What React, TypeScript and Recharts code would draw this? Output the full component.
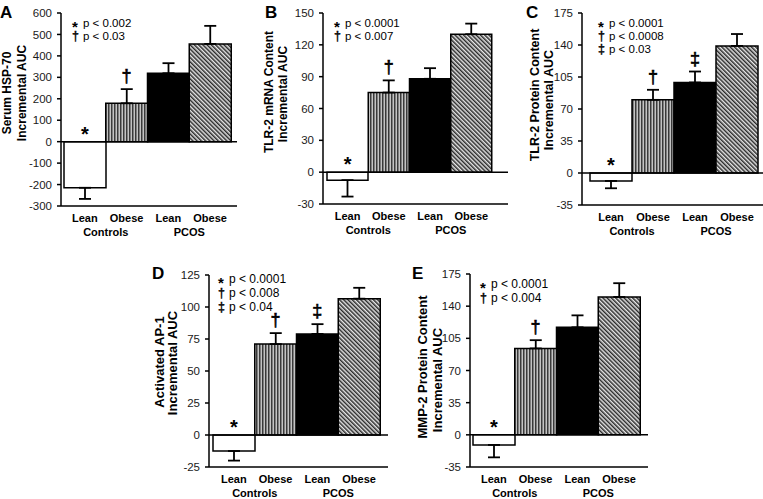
import React from 'react'
import {
  ComposedChart,
  Bar,
  Cell,
  ErrorBar,
  Line,
  LabelList,
  XAxis,
  YAxis,
  ReferenceLine,
} from 'recharts'

const FONT = '"Liberation Sans", Arial, Helvetica, sans-serif'

// shared categories
const categories = ['Lean', 'Obese', 'Lean', 'Obese']
const groups = ['Controls', '', 'PCOS', '']

// A: serum HSP-70
const hspValues = [-215, 179, 319, 456]
const hspErrors = [52, 66, 47, 84]
const hspMarks = ['*', '†', '', '']
const hspTicks = [-300, -200, -100, 0, 100, 200, 300, 400, 500, 600]
const hspLegend = [['*', 'p < 0.002'], ['†', 'p < 0.03']]

// B: TLR-2 mRNA
const mrnaValues = [-7.5, 75, 88, 130]
const mrnaErrors = [15.5, 11.5, 10, 10]
const mrnaMarks = ['*', '†', '', '']
const mrnaTicks = [-30, 0, 30, 60, 90, 120, 150]
const mrnaLegend = [['*', 'p < 0.0001'], ['†', 'p < 0.007']]

// C: TLR-2 protein
const tlrValues = [-8.7, 80, 99, 139]
const tlrErrors = [8, 11, 12, 13]
const tlrMarks = ['*', '†', '‡', '']
const tlrTicks = [-35, 0, 35, 70, 105, 140, 175]
const tlrLegend = [['*', 'p < 0.0001'], ['†', 'p < 0.0008'], ['‡', 'p < 0.03']]

// D: activated AP-1
const ap1Values = [-12.5, 71, 79, 106.5]
const ap1Errors = [7.5, 8.6, 7.6, 8.5]
const ap1Marks = ['*', '†', '‡', '']
const ap1Ticks = [-25, 0, 25, 50, 75, 100, 125]
const ap1Legend = [['*', 'p < 0.0001'], ['†', 'p < 0.008'], ['‡', 'p < 0.04']]

// E: MMP-2 protein
const mmpValues = [-11, 94, 117, 150]
const mmpErrors = [13.5, 9, 13, 15]
const mmpMarks = ['*', '†', '', '']
const mmpTicks = [-35, 0, 35, 70, 105, 140, 175]
const mmpLegend = [['*', 'p < 0.0001'], ['†', 'p < 0.004']]

const FILLS = ['#ffffff', 'url(#vstripes)', '#000000', 'url(#diag)']

// layout per panel (page pixels); yLab = [centerX, centerY] per label line
const panels = [
  {
    letter: 'A', values: hspValues, errors: hspErrors, marks: hspMarks, ticks: hspTicks, legend: hspLegend,
    yLabel: ['Serum HSP-70', 'Incremental AUC'], labFont: 12, yLab: [[7, 93], [22, 93]],
    left: 0, top: 0, width: 245, height: 240, mTop: 13, mRight: 8, xHeight: 34, padL: 3, padR: 6, groupDy: 30,
    letterX: 0, letterY: 18, legX: 72, legY: 23, legGap: 12.5, legFont: 11.5,
  },
  {
    letter: 'B', values: mrnaValues, errors: mrnaErrors, marks: mrnaMarks, ticks: mrnaTicks, legend: mrnaLegend,
    yLabel: ['TLR-2 mRNA Content', 'Incremental AUC'], labFont: 12, yLab: [[269, 92], [283, 94]],
    left: 262, top: 0, width: 252, height: 240, mTop: 13, mRight: 6, xHeight: 36, padL: 4, padR: 16, groupDy: 30,
    letterX: 265, letterY: 18, legX: 334, legY: 23, legGap: 12.5, legFont: 11.5,
  },
  {
    letter: 'C', values: tlrValues, errors: tlrErrors, marks: tlrMarks, ticks: tlrTicks, legend: tlrLegend,
    yLabel: ['TLR-2 Protein Content', 'Incremental AUC'], labFont: 12.5, yLab: [[534, 95], [548, 100]],
    left: 521, top: 0, width: 242, height: 240, mTop: 13, mRight: 0, xHeight: 35, padL: 8, padR: 5, groupDy: 30,
    letterX: 526, letterY: 18, legX: 598, legY: 23, legGap: 13, legFont: 11.5,
  },
  {
    letter: 'D', values: ap1Values, errors: ap1Errors, marks: ap1Marks, ticks: ap1Ticks, legend: ap1Legend,
    yLabel: ['Activated AP-1', 'Incremental AUC'], labFont: 13, yLab: [[159, 362], [172, 363]],
    left: 148, top: 262, width: 244, height: 237, mTop: 13, mRight: 4, xHeight: 32, padL: 4, padR: 8, groupDy: 30,
    letterX: 152, letterY: 279, legX: 218, legY: 279, legGap: 14, legFont: 12,
  },
  {
    letter: 'E', values: mmpValues, errors: mmpErrors, marks: mmpMarks, ticks: mmpTicks, legend: mmpLegend,
    yLabel: ['MMP-2 Protein Content', 'Incremental AUC'], labFont: 13, yLab: [[422, 367], [437, 380]],
    left: 409, top: 262, width: 243, height: 237, mTop: 12, mRight: 4, xHeight: 32, padL: 3, padR: 8, groupDy: 30,
    letterX: 412, letterY: 279, legX: 480, legY: 284, legGap: 14, legFont: 12,
  },
]

function makeData(values: number[], errors: number[], marks: string[]) {
  return categories.map((name, i) => ({
    name,
    value: values[i],
    err: values[i] < 0 ? [errors[i], 0] : [0, errors[i]],
    top: values[i] < 0 ? 0 : values[i] + errors[i],
    mark: marks[i],
  }))
}

function renderMark(props: any) {
  const { x, y, value } = props
  if (!value) return null
  const star = value === '*'
  return (
    <text
      x={x}
      y={y - 13 + (star ? 12 : 6)}
      textAnchor="middle"
      fontFamily={FONT}
      fontSize={star ? 20 : 18}
      fontWeight={star ? 'bold' : 'normal'}
      fill="#000"
      stroke="#000"
      strokeWidth={star ? 0 : 0.6}
    >
      {value}
    </text>
  )
}

function makeTick(groupDy: number) {
  return (props: any) => {
    const { x, y, payload } = props
    const idx = props.index ?? payload.index
    const half = payload.offset || 21
    const g = groups[idx]
    return (
      <g>
        <text x={x} y={y + 16} textAnchor="middle" fontFamily={FONT} fontSize={11} fontWeight="bold" fill="#000">
          {payload.value}
        </text>
        {g && (
          <text x={x + half} y={y + groupDy} textAnchor="middle" fontFamily={FONT} fontSize={11} fontWeight="bold" fill="#000">
            {g}
          </text>
        )}
      </g>
    )
  }
}

function Panel({ p }: { p: any }) {
  const data = makeData(p.values, p.errors, p.marks)
  const ticks: number[] = p.ticks
  return (
    <div style={{ position: 'absolute', left: p.left, top: p.top }}>
      <ComposedChart
        width={p.width}
        height={p.height}
        data={data}
        margin={{ top: p.mTop, right: p.mRight, bottom: 0, left: 0 }}
        barCategoryGap={0}
      >
        <XAxis
          dataKey="name"
          height={p.xHeight}
          padding={{ left: p.padL, right: p.padR }}
          axisLine={{ stroke: '#000', strokeWidth: 1.5 }}
          tickLine={false}
          tickSize={0}
          tickMargin={0}
          interval={0}
          tick={makeTick(p.groupDy)}
        />
        <YAxis
          width={61}
          domain={[ticks[0], ticks[ticks.length - 1]]}
          ticks={ticks}
          interval={0}
          allowDataOverflow
          tickSize={4}
          tickMargin={5}
          axisLine={{ stroke: '#000', strokeWidth: 1.5 }}
          tickLine={{ stroke: '#000', strokeWidth: 1.5 }}
          tick={{ fontSize: 11.5, fill: '#1a1a1a', fontFamily: FONT }}
        />
        <Bar dataKey="value" stroke="#000" strokeWidth={1.5} isAnimationActive={false}>
          {data.map((_, i) => (
            <Cell key={`cell-${i}`} fill={FILLS[i]} />
          ))}
          <ErrorBar dataKey="err" direction="y" width={6} stroke="#000" strokeWidth={1.8} />
        </Bar>
        <ReferenceLine y={0} stroke="#000" strokeWidth={1.5} />
        <Line dataKey="top" stroke="none" dot={false} activeDot={false} isAnimationActive={false}>
          <LabelList dataKey="mark" content={renderMark} />
        </Line>
      </ComposedChart>
    </div>
  )
}

export default function App() {
  return (
    <div style={{ position: 'absolute', left: 0, top: 0, width: 763, height: 499, background: '#fff', overflow: 'hidden' }}>
      {panels.map((p) => (
        <Panel key={p.letter} p={p} />
      ))}
      <svg
        width={763}
        height={499}
        style={{ position: 'absolute', left: 0, top: 0, pointerEvents: 'none' }}
        fontFamily={FONT}
      >
        <defs>
          <pattern id="vstripes" patternUnits="userSpaceOnUse" width={3} height={10}>
            <rect width={3} height={10} fill="#c4c4c4" />
            <rect width={1.5} height={10} fill="#3a3a3a" />
          </pattern>
          <pattern id="diag" patternUnits="userSpaceOnUse" width={3} height={10} patternTransform="rotate(-45)">
            <rect width={3} height={10} fill="#e6e6e6" />
            <rect width={1.5} height={10} fill="#2a2a2a" />
          </pattern>
        </defs>
        {panels.map((p) => (
          <g key={p.letter}>
            <text x={p.letterX} y={p.letterY} fontSize={17} fontWeight="bold" fill="#000">
              {p.letter}
            </text>
            {p.legend.map(([sym, txt]: string[], i: number) => {
              const cy = p.legY + i * p.legGap
              const star = sym === '*'
              return (
                <g key={i}>
                  <text
                    x={p.legX}
                    y={cy + (star ? 8.5 : 4)}
                    fontSize={star ? 15 : 12.5}
                    fontWeight={star ? 'bold' : 'normal'}
                    fill="#000"
                    stroke="#000"
                    strokeWidth={star ? 0 : 0.4}
                  >
                    {sym}
                  </text>
                  <text x={p.legX + 11} y={cy + 4.2} fontSize={p.legFont} fill="#000">
                    {txt}
                  </text>
                </g>
              )
            })}
            {p.yLabel.map((t: string, i: number) => {
              const [cx, cy] = p.yLab[i]
              return (
                <text
                  key={i}
                  transform={`translate(${cx + p.labFont * 0.36}, ${cy}) rotate(-90)`}
                  textAnchor="middle"
                  fontSize={p.labFont}
                  fontWeight="bold"
                  fill="#000"
                >
                  {t}
                </text>
              )
            })}
          </g>
        ))}
      </svg>
    </div>
  )
}
